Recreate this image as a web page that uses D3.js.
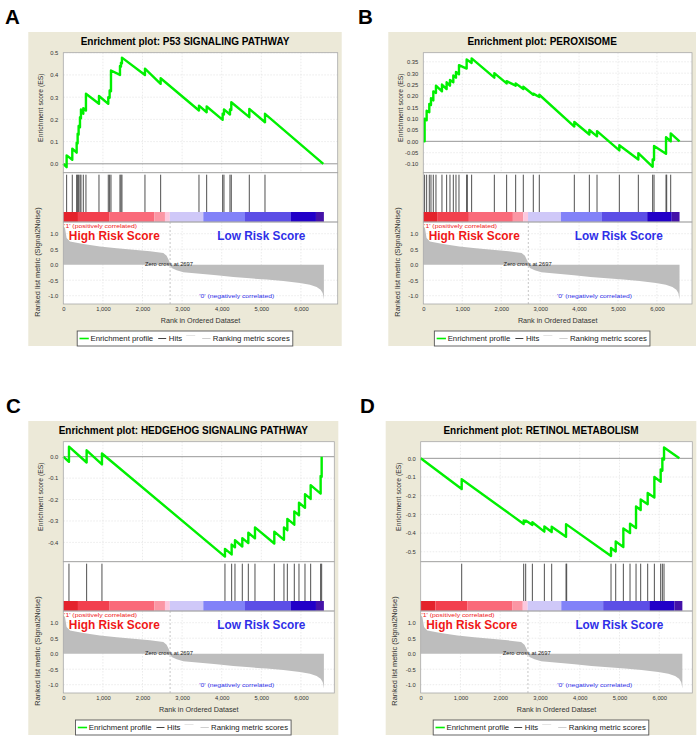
<!DOCTYPE html>
<html lang="en">
<head>
<meta charset="UTF-8">
<script src="https://d3js.org/d3.v7.min.js" charset="utf-8"></script>
<title>GSEA enrichment plots</title>
<style>
    body { margin: 0; background: #fff; }
    svg { display: block; font-family: "Liberation Sans", Arial, sans-serif; }
</style>
</head>
<body>
<div id="chart"></div>
<script>
// ranked list shared by the four plots
const geneCount = 6580;
const zeroCross = 2697;
const rankMetric = [[0,1.25],[42,1.18],[84,0.86],[168,0.75],[505,0.67],[926,0.59],[1347,0.53],[1768,0.48],
    [2189,0.43],[2525,0.38],[2609,0.29],[2677,0.11],[2697,0],[2736,-0.11],[2862,-0.18],[3030,-0.24],
    [3451,-0.29],[3872,-0.34],[4293,-0.40],[4714,-0.44],[5135,-0.48],[5556,-0.53],[5976,-0.59],
    [6229,-0.65],[6397,-0.72],[6498,-0.81],[6549,-0.91],[6566,-1.02],[6580,-1.12]];
// block edges of the red/blue heat bar (rank)
const barEdges = [0,370,1170,2300,2567,2690,3535,4588,5749,6380,6580];

const xTicks = [0,1000,2000,3000,4000,5000,6000];
const rankTicks = [1.0,0.5,0.0,-0.5,-1.0];

// A: P53
const titleA = "Enrichment plot: P53 SIGNALING PATHWAY";
const hitsA = [84,227,337,362,387,421,446,505,572,901,1136,1170,1204,1431,1456,1481,2062,2458,
    3426,3620,4024,4057,4209,4242,4697,5093];
const esA = [[0,0],[84,-0.015],[84,0.038],[227,0.018],[227,0.068],[337,0.05],[337,0.095],[362,0.092],
    [362,0.135],[387,0.132],[387,0.17],[421,0.165],[421,0.21],[446,0.205],[446,0.245],[505,0.225],
    [505,0.25],[572,0.24],[572,0.315],[901,0.27],[901,0.305],[1136,0.27],[1136,0.30],[1170,0.297],
    [1170,0.33],[1204,0.327],[1204,0.42],[1431,0.40],[1431,0.44],[1456,0.437],[1456,0.455],
    [1481,0.452],[1481,0.478],[2062,0.40],[2062,0.428],[2458,0.36],[2458,0.385],[3426,0.24],
    [3426,0.262],[3620,0.232],[3620,0.258],[4024,0.198],[4024,0.225],[4057,0.222],[4057,0.245],
    [4209,0.222],[4209,0.245],[4242,0.242],[4242,0.277],[4697,0.21],[4697,0.247],[5093,0.187],
    [5093,0.225],[6566,0]];
const esTicksA = [0.0,0.1,0.2,0.3,0.4,0.5];

// B: PEROXISOME
const titleB = "Enrichment plot: PEROXISOME";
const hitsB = [34,86,154,197,257,325,479,599,685,771,839,916,1113,1130,1241,1824,2140,2372,2568,
    2825,2979,3878,4264,4461,5034,5522,5890,5925,6233,6250,6353];
const esB = [[0,0],[34,0],[34,0.10],[86,0.093],[86,0.135],[154,0.128],[154,0.165],[197,0.16],
    [197,0.19],[257,0.18],[257,0.22],[325,0.213],[325,0.245],[479,0.22],[479,0.25],[599,0.23],
    [599,0.26],[685,0.245],[685,0.27],[771,0.26],[771,0.29],[839,0.28],[839,0.305],[916,0.295],
    [916,0.335],[1113,0.32],[1113,0.36],[1241,0.345],[1241,0.365],[1824,0.28],[1824,0.30],
    [2140,0.255],[2140,0.265],[2372,0.245],[2372,0.255],[2568,0.23],[2568,0.24],[2825,0.205],
    [2825,0.21],[2979,0.195],[2979,0.205],[3878,0.065],[3878,0.085],[4264,0.03],[4264,0.05],
    [4461,0.022],[4461,0.045],[5034,-0.04],[5034,-0.017],[5522,-0.08],[5522,-0.052],[5890,-0.112],
    [5890,-0.08],[5925,-0.082],[5925,-0.02],[6233,-0.055],[6233,0.018],[6353,0.0],[6353,0.035],
    [6580,0]];
const esTicksB = [0.35,0.30,0.25,0.20,0.15,0.10,0.05,0.00,-0.05,-0.10];

// C: HEDGEHOG
const titleC = "Enrichment plot: HEDGEHOG SIGNALING PATHWAY";
const hitsC = [143,589,976,4082,4251,4335,4520,4672,4840,5328,5572,5657,5833,5951,6103,6246,6498,6524];
const esC = [[0,0],[143,-0.024],[143,0.047],[589,-0.027],[589,0.03],[976,-0.036],[976,0.015],
    [4082,-0.466],[4082,-0.43],[4251,-0.456],[4251,-0.41],[4335,-0.423],[4335,-0.39],[4520,-0.419],
    [4520,-0.38],[4672,-0.403],[4672,-0.355],[4840,-0.381],[4840,-0.33],[5328,-0.405],[5328,-0.35],
    [5572,-0.388],[5572,-0.33],[5657,-0.343],[5657,-0.29],[5833,-0.317],[5833,-0.255],[5951,-0.273],
    [5951,-0.215],[6103,-0.238],[6103,-0.175],[6246,-0.197],[6246,-0.133],[6498,-0.172],
    [6498,-0.09],[6524,-0.094],[6524,0]];
const esTicksC = [0.0,-0.1,-0.2,-0.3,-0.4];

// D: RETINOL
const titleD = "Enrichment plot: RETINOL METABOLISM";
const hitsD = [1031,2590,2640,2808,3110,3294,3655,3671,4786,4904,5096,5264,5415,5532,5708,5876,
    6035,6077,6119];
const esD = [[0,0],[1031,-0.164],[1031,-0.112],[2590,-0.351],[2590,-0.332],[2640,-0.34],[2640,-0.333],
    [2808,-0.356],[2808,-0.342],[3110,-0.392],[3110,-0.365],[3294,-0.394],[3294,-0.366],[3655,-0.42],
    [3655,-0.352],[4786,-0.522],[4786,-0.48],[4904,-0.498],[4904,-0.445],[5096,-0.474],[5096,-0.375],
    [5264,-0.40],[5264,-0.35],[5415,-0.373],[5415,-0.258],[5532,-0.276],[5532,-0.22],[5708,-0.245],
    [5708,-0.185],[5876,-0.21],[5876,-0.10],[6035,-0.125],[6035,-0.06],[6077,-0.066],[6077,0.0],
    [6119,-0.006],[6119,0.058],[6504,0]];
const esTicksD = [0.0,-0.1,-0.2,-0.3,-0.4,-0.5];

const barColors = ["#e4222c","#f2404e","#fa6a7a","#fb96a4","#fcc8de","#cfc8f8","#8282f8","#5c4ee6","#2200c8","#4412a8"];

const panels = [
    { label: "A", title: titleA, hits: hitsA, es: esA, esTicks: esTicksA, esDomain: [-0.04, 0.5], digits: 1,
      left: 63.3, right: 337.7, xMax: 6929, oy: 0, labelX: 5 },
    { label: "B", title: titleB, hits: hitsB, es: esB, esTicks: esTicksB, esDomain: [-0.138, 0.39], digits: 2,
      left: 423.3, right: 692, xMax: 6900, oy: 0, labelX: 358 },
    { label: "C", title: titleC, hits: hitsC, es: esC, esTicks: esTicksC, esDomain: [-0.49, 0.07], digits: 1,
      left: 63.3, right: 334.3, xMax: 6843, oy: 389, labelX: 6 },
    { label: "D", title: titleD, hits: hitsD, es: esD, esTicks: esTicksD, esDomain: [-0.553, 0.089], digits: 1,
      left: 420.7, right: 692.3, xMax: 6830, oy: 389, labelX: 360 }
];

const svg = d3.select("#chart").append("svg")
    .attr("width", 700)
    .attr("height", 739);

const drawPanel = (p) => {
    const oy = p.oy;
    const esTop = 52.7 + oy, esBot = 172.7 + oy, hitBot = 212 + oy, barBot = 222 + oy, rankBot = 304 + oy;
    const bgL = p.left - 35, bgR = p.right + 4, mid = (bgL + bgR) / 2;
    const g = svg.append("g");

    const x = d3.scaleLinear().domain([0, p.xMax]).range([p.left, p.right]);
    const yEs = d3.scaleLinear().domain(p.esDomain).range([esBot, esTop]);
    const yRank = d3.scaleLinear().domain([-1.268, 1.377]).range([rankBot, barBot]);

    // panel letter
    svg.append("text")
        .attr("x", p.labelX).attr("y", 24 + oy)
        .attr("font-size", 20.5).attr("font-weight", "bold")
        .text(p.label);

    // beige frame
    g.append("rect")
        .attr("x", bgL).attr("y", 32 + oy)
        .attr("width", bgR - bgL).attr("height", 314)
        .attr("fill", "#ece9d8");

    g.append("text")
        .attr("x", mid).attr("y", 44.6 + oy)
        .attr("text-anchor", "middle")
        .attr("font-size", 10).attr("font-weight", "bold")
        .text(p.title);

    // white plot areas
    [[esTop, esBot], [esBot, barBot], [barBot, rankBot]].forEach(([t, b]) => {
        g.append("rect")
            .attr("x", p.left).attr("y", t)
            .attr("width", p.right - p.left).attr("height", b - t)
            .attr("fill", "#fff");
    });

    // grid
    const gridV = xTicks.slice(1);
    [[esTop, esBot], [barBot, rankBot]].forEach(([t, b]) => {
        g.selectAll(null).data(gridV).enter().append("line")
            .attr("x1", d => x(d)).attr("x2", d => x(d))
            .attr("y1", t).attr("y2", b)
            .attr("stroke", "#e2e2e2").attr("stroke-width", 0.7)
            .attr("stroke-dasharray", "1.5,1.5");
    });
    g.selectAll(null).data(p.esTicks.filter(d => d !== 0)).enter().append("line")
        .attr("x1", p.left).attr("x2", p.right)
        .attr("y1", d => yEs(d)).attr("y2", d => yEs(d))
        .attr("stroke", "#e2e2e2").attr("stroke-width", 0.7)
        .attr("stroke-dasharray", "1.5,1.5");
    g.selectAll(null).data(rankTicks.filter(d => d !== 0)).enter().append("line")
        .attr("x1", p.left).attr("x2", p.right)
        .attr("y1", d => yRank(d)).attr("y2", d => yRank(d))
        .attr("stroke", "#e2e2e2").attr("stroke-width", 0.7)
        .attr("stroke-dasharray", "1.5,1.5");

    // ranking metric
    const area = d3.area()
        .x(d => x(d[0]))
        .y0(yRank(0))
        .y1(d => yRank(d[1]));
    g.append("path")
        .datum(rankMetric)
        .attr("d", area)
        .attr("fill", "#bdbdbd");

    g.append("line")
        .attr("x1", x(zeroCross)).attr("x2", x(zeroCross))
        .attr("y1", barBot).attr("y2", rankBot)
        .attr("stroke", "#b8b8b8").attr("stroke-width", 0.8)
        .attr("stroke-dasharray", "2,2");

    // heat bar
    const blocks = d3.pairs(barEdges);
    g.selectAll(null).data(blocks).enter().append("rect")
        .attr("x", d => x(d[0])).attr("y", hitBot)
        .attr("width", d => x(d[1]) - x(d[0]))
        .attr("height", barBot - hitBot)
        .attr("fill", (d, i) => barColors[i]);

    // hits
    g.selectAll(null).data(p.hits).enter().append("line")
        .attr("x1", d => x(d)).attr("x2", d => x(d))
        .attr("y1", esBot + 2).attr("y2", hitBot)
        .attr("stroke", "#3c3c3c").attr("stroke-width", 0.9);

    // ES zero line and curve
    g.append("line")
        .attr("x1", p.left).attr("x2", p.right)
        .attr("y1", yEs(0)).attr("y2", yEs(0))
        .attr("stroke", "#8c8c8c").attr("stroke-width", 0.9);

    const line = d3.line().x(d => x(d[0])).y(d => yEs(d[1]));
    g.append("path")
        .datum(p.es)
        .attr("d", line)
        .attr("fill", "none")
        .attr("stroke", "#00f000")
        .attr("stroke-width", 2.4)
        .attr("stroke-linejoin", "round");

    // panel borders
    [[esTop, esBot], [esBot, barBot], [barBot, rankBot]].forEach(([t, b]) => {
        g.append("rect")
            .attr("x", p.left).attr("y", t)
            .attr("width", p.right - p.left).attr("height", b - t)
            .attr("fill", "none").attr("stroke", "#a8a8a8").attr("stroke-width", 0.8);
    });

    // axes
    const styleAxis = (sel) => {
        sel.select(".domain").remove();
        sel.selectAll("line").remove();
        sel.attr("font-size", 5.8).attr("font-family", null);
        sel.selectAll("text").attr("fill", "#333");
    };
    g.append("g")
        .attr("transform", `translate(${p.left},0)`)
        .call(d3.axisLeft(yEs).tickValues(p.esTicks).tickFormat(d => d.toFixed(p.digits)).tickSize(0).tickPadding(5))
        .call(styleAxis);
    g.append("g")
        .attr("transform", `translate(${p.left},0)`)
        .call(d3.axisLeft(yRank).tickValues(rankTicks).tickFormat(d => d.toFixed(1)).tickSize(0).tickPadding(5))
        .call(styleAxis);
    g.append("g")
        .attr("transform", `translate(0,${rankBot})`)
        .call(d3.axisBottom(x).tickValues(xTicks).tickFormat(d3.format(",")).tickSize(0).tickPadding(3))
        .call(styleAxis);

    g.append("text")
        .attr("x", (p.left + p.right) / 2).attr("y", 322.5 + oy)
        .attr("text-anchor", "middle").attr("font-size", 7.2).attr("fill", "#333")
        .text("Rank in Ordered Dataset");
    g.append("text")
        .attr("transform", `translate(${p.left - 20},${(esTop + esBot) / 2 - 5}) rotate(-90)`)
        .attr("text-anchor", "middle").attr("font-size", 6.8).attr("fill", "#333")
        .text("Enrichment score (ES)");
    g.append("text")
        .attr("transform", `translate(${p.left - 23.5},${(barBot + rankBot) / 2 - 1}) rotate(-90)`)
        .attr("text-anchor", "middle").attr("font-size", 7.4).attr("fill", "#333")
        .text("Ranked list metric (Signal2Noise)");

    // phenotype labels
    g.append("text")
        .attr("x", p.left + 0.8).attr("y", 227.6 + oy)
        .attr("font-size", 5.4).attr("fill", "#f01818")
        .attr("textLength", 73).attr("lengthAdjust", "spacingAndGlyphs")
        .text("'1' (positively correlated)");
    g.append("text")
        .attr("x", x(140)).attr("y", 239.6 + oy)
        .attr("font-size", 12.4).attr("font-weight", "bold").attr("fill", "#f01818")
        .attr("textLength", 91).attr("lengthAdjust", "spacingAndGlyphs")
        .text("High Risk Score");
    g.append("text")
        .attr("x", x(3890)).attr("y", 240.1 + oy)
        .attr("font-size", 12.4).attr("font-weight", "bold").attr("fill", "#2f2fe8")
        .attr("textLength", 88).attr("lengthAdjust", "spacingAndGlyphs")
        .text("Low Risk Score");
    g.append("text")
        .attr("x", x(2063)).attr("y", 265.5 + oy)
        .attr("font-size", 5.4).attr("fill", "#222")
        .attr("textLength", 48).attr("lengthAdjust", "spacingAndGlyphs")
        .text("Zero cross at 2697");
    g.append("text")
        .attr("x", x(3432)).attr("y", 298.3 + oy)
        .attr("font-size", 5.6).attr("fill", "#2f2fe8")
        .attr("textLength", 75).attr("lengthAdjust", "spacingAndGlyphs")
        .text("'0' (negatively correlated)");

    // legend
    const lw = 215.6, lx = mid - lw / 2, ly = 331 + oy, lm = ly + 7.5;
    g.append("rect")
        .attr("x", lx).attr("y", ly).attr("width", lw).attr("height", 15)
        .attr("fill", "#fff").attr("stroke", "#555").attr("stroke-width", 0.9);
    g.append("line").attr("x1", lx + 2.3).attr("x2", lx + 11.6).attr("y1", lm).attr("y2", lm)
        .attr("stroke", "#00f000").attr("stroke-width", 1.6);
    g.append("line").attr("x1", lx + 81).attr("x2", lx + 89).attr("y1", lm).attr("y2", lm)
        .attr("stroke", "#444").attr("stroke-width", 1);
    g.append("line").attr("x1", lx + 109).attr("x2", lx + 118).attr("y1", lm - 3).attr("y2", lm - 3)
        .attr("stroke", "#e4e4e4").attr("stroke-width", 1);
    g.append("line").attr("x1", lx + 125).attr("x2", lx + 133.3).attr("y1", lm).attr("y2", lm)
        .attr("stroke", "#cfcfcf").attr("stroke-width", 1);
    [["Enrichment profile", 13.3, 62.7], ["Hits", 91.6, 13.4], ["Ranking metric scores", 135.6, 77]].forEach(([t, dx, w]) => {
        g.append("text")
            .attr("x", lx + dx).attr("y", lm + 2.6)
            .attr("font-size", 7.2).attr("fill", "#222")
            .attr("textLength", w).attr("lengthAdjust", "spacingAndGlyphs")
            .text(t);
    });
};

panels.forEach(drawPanel);
</script>
</body>
</html>
